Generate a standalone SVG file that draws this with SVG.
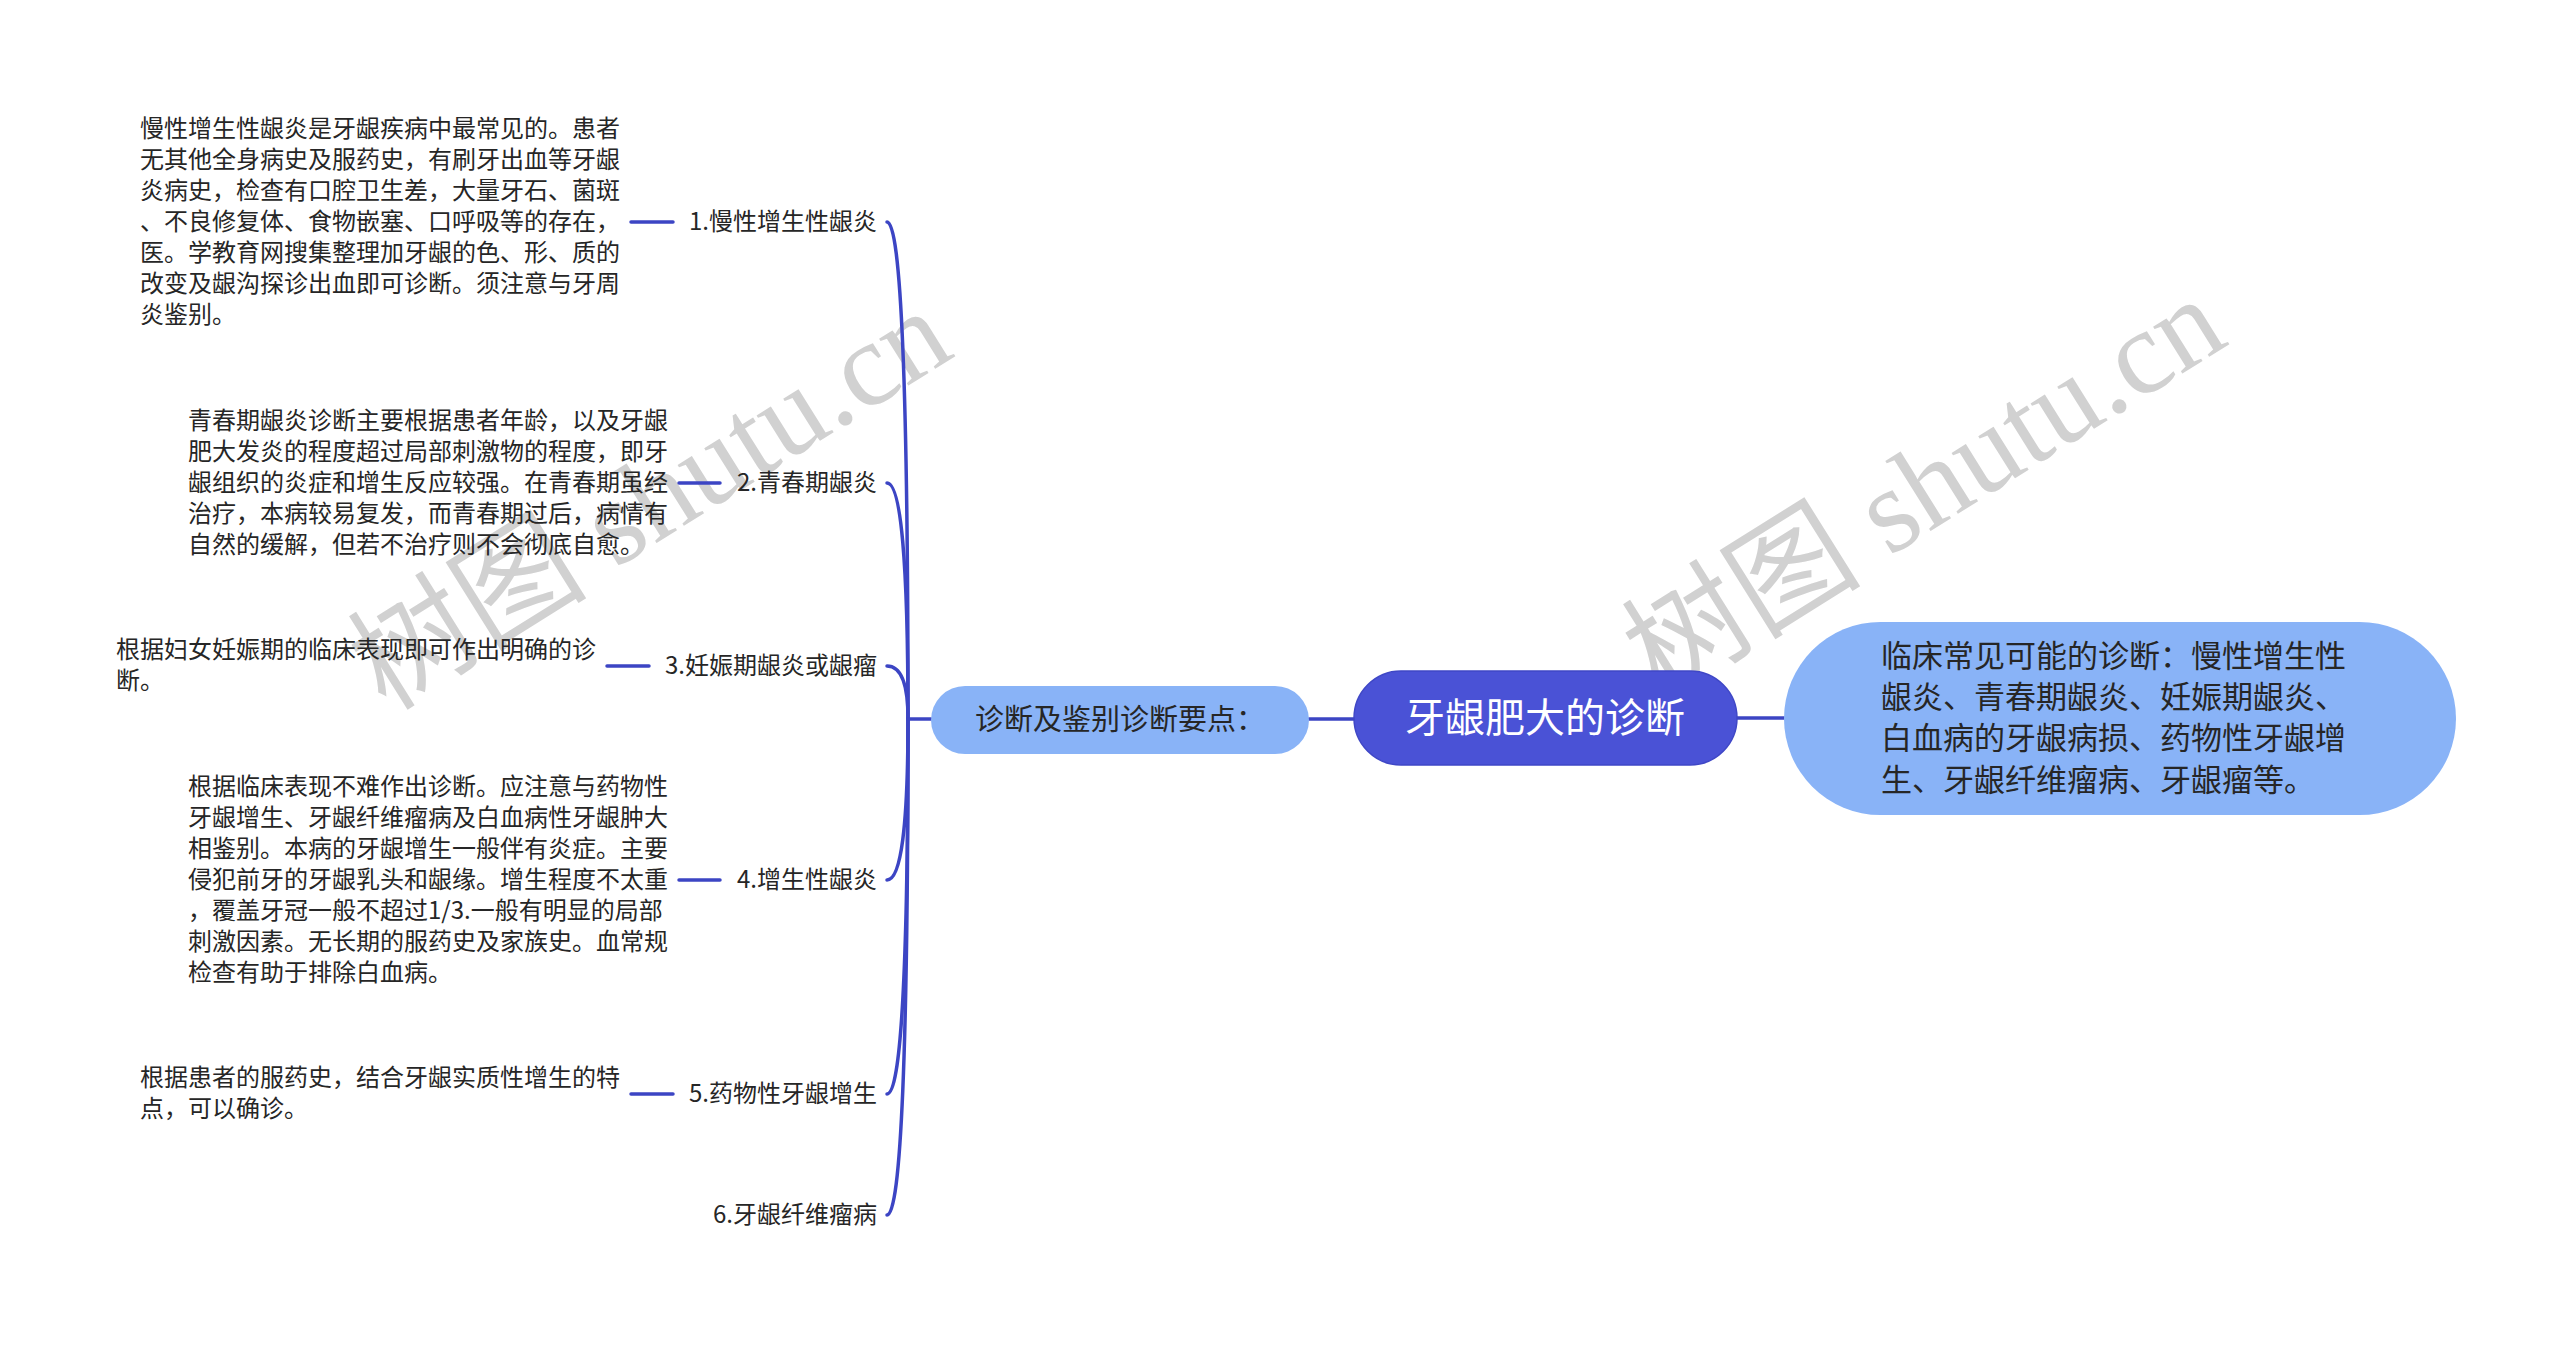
<svg xmlns="http://www.w3.org/2000/svg" width="2560" height="1345" viewBox="0 0 2560 1345">
<style>
  .p { font-family: "Noto Sans CJK SC", "Noto Sans", sans-serif; font-size: 24px; fill: #262626; }
  .lbl { font-family: "Noto Sans CJK SC", "Noto Sans", sans-serif; font-size: 24px; fill: #262626; text-anchor: end; }
  .wm { font-family: "Liberation Serif", "Noto Sans CJK SC", serif; font-size: 120px; fill: #c9c9c9; opacity: 0.85; }
  .edge { fill: none; stroke: #3c45c4; stroke-width: 3.5; stroke-linecap: round; }
</style>
<rect width="2560" height="1345" fill="#ffffff"/>

<g id="watermarks">
  <text class="wm" transform="translate(386,712) rotate(-32)">树图 shutu.cn</text>
  <text class="wm" transform="translate(1660,700) rotate(-32)">树图 shutu.cn</text>
</g>

<g id="connectors">
  <line class="edge" x1="1737" y1="718" x2="1784" y2="718"/>
  <line class="edge" x1="1309" y1="719" x2="1354" y2="719"/>
  <line class="edge" x1="908" y1="719" x2="931" y2="719"/>
  <path class="edge" d="M908,719 Q908,222 887,222"/>
  <path class="edge" d="M908,719 Q908,483 887,483"/>
  <path class="edge" d="M908,719 Q908,666 887,666"/>
  <path class="edge" d="M908,719 Q908,880 887,880"/>
  <path class="edge" d="M908,719 Q908,1094 887,1094"/>
  <path class="edge" d="M908,719 Q908,1215 887,1215"/>
  <line class="edge" x1="631" y1="222" x2="673" y2="222"/>
  <line class="edge" x1="679" y1="483" x2="720" y2="483"/>
  <line class="edge" x1="607" y1="666" x2="649" y2="666"/>
  <line class="edge" x1="679" y1="880" x2="720" y2="880"/>
  <line class="edge" x1="631" y1="1094" x2="673" y2="1094"/>
</g>

<g id="root">
  <rect x="1354" y="671" width="383" height="94" rx="47" fill="#4a52d6" stroke="#3f47c6" stroke-width="1.5"/>
  <text x="1545" y="732" font-family="Noto Sans CJK SC, Noto Sans, sans-serif" font-size="40" fill="#ffffff" text-anchor="middle">牙龈肥大的诊断</text>
</g>

<g id="right-node">
  <rect x="1784" y="622" width="672" height="193" rx="96.5" fill="#89b3f7"/>
  <g font-family="Noto Sans CJK SC, Noto Sans, sans-serif" font-size="31" fill="#262626">
    <text x="1881" y="667">临床常见可能的诊断：慢性增生性</text>
    <text x="1881" y="708">龈炎、青春期龈炎、妊娠期龈炎、</text>
    <text x="1881" y="749">白血病的牙龈病损、药物性牙龈增</text>
    <text x="1881" y="791">生、牙龈纤维瘤病、牙龈瘤等。</text>
  </g>
</g>

<g id="left-node">
  <rect x="931" y="686" width="378" height="68" rx="34" fill="#89b3f7"/>
  <text x="1120" y="730" font-family="Noto Sans CJK SC, Noto Sans, sans-serif" font-size="29" fill="#262626" text-anchor="middle">诊断及鉴别诊断要点：</text>
</g>

<g id="item1">
  <text class="lbl" x="877" y="230">1.慢性增生性龈炎</text>
  <g class="p">
    <text x="140" y="137">慢性增生性龈炎是牙龈疾病中最常见的。患者</text>
    <text x="140" y="168">无其他全身病史及服药史，有刷牙出血等牙龈</text>
    <text x="140" y="199">炎病史，检查有口腔卫生差，大量牙石、菌斑</text>
    <text x="140" y="230">、不良修复体、食物嵌塞、口呼吸等的存在，</text>
    <text x="140" y="261">医。学教育网搜集整理加牙龈的色、形、质的</text>
    <text x="140" y="292">改变及龈沟探诊出血即可诊断。须注意与牙周</text>
    <text x="140" y="323">炎鉴别。</text>
  </g>
</g>

<g id="item2">
  <text class="lbl" x="877" y="491">2.青春期龈炎</text>
  <g class="p">
    <text x="188" y="429">青春期龈炎诊断主要根据患者年龄，以及牙龈</text>
    <text x="188" y="460">肥大发炎的程度超过局部刺激物的程度，即牙</text>
    <text x="188" y="491">龈组织的炎症和增生反应较强。在青春期虽经</text>
    <text x="188" y="522">治疗，本病较易复发，而青春期过后，病情有</text>
    <text x="188" y="553">自然的缓解，但若不治疗则不会彻底自愈。</text>
  </g>
</g>

<g id="item3">
  <text class="lbl" x="877" y="674">3.妊娠期龈炎或龈瘤</text>
  <g class="p">
    <text x="116" y="658">根据妇女妊娠期的临床表现即可作出明确的诊</text>
    <text x="116" y="689">断。</text>
  </g>
</g>

<g id="item4">
  <text class="lbl" x="877" y="888">4.增生性龈炎</text>
  <g class="p">
    <text x="188" y="795">根据临床表现不难作出诊断。应注意与药物性</text>
    <text x="188" y="826">牙龈增生、牙龈纤维瘤病及白血病性牙龈肿大</text>
    <text x="188" y="857">相鉴别。本病的牙龈增生一般伴有炎症。主要</text>
    <text x="188" y="888">侵犯前牙的牙龈乳头和龈缘。增生程度不太重</text>
    <text x="188" y="919">，覆盖牙冠一般不超过1/3.一般有明显的局部</text>
    <text x="188" y="950">刺激因素。无长期的服药史及家族史。血常规</text>
    <text x="188" y="981">检查有助于排除白血病。</text>
  </g>
</g>

<g id="item5">
  <text class="lbl" x="877" y="1102">5.药物性牙龈增生</text>
  <g class="p">
    <text x="140" y="1086">根据患者的服药史，结合牙龈实质性增生的特</text>
    <text x="140" y="1117">点，可以确诊。</text>
  </g>
</g>

<g id="item6">
  <text class="lbl" x="877" y="1223">6.牙龈纤维瘤病</text>
</g>
</svg>
